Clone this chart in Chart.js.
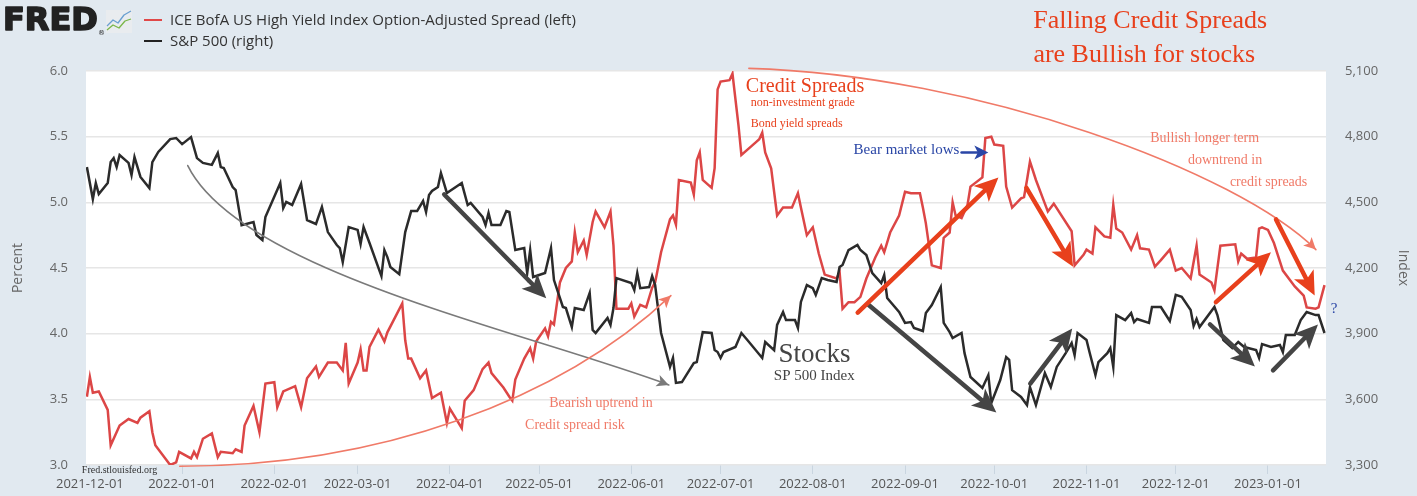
<!DOCTYPE html>
<html>
<head>
<meta charset="utf-8">
<script src="https://cdn.jsdelivr.net/npm/chart.js@4.4.1/dist/chart.umd.min.js"></script>
<style>
  html, body { margin: 0; padding: 0; background: #e1e9f0; }
  #wrap { width: 1417px; height: 496px; position: relative; }
</style>
</head>
<body>
<div id="wrap"><canvas id="fredChart"></canvas></div>
<script>
// x axis months
const monthLabels = ["2021-12-01", "2022-01-01", "2022-02-01", "2022-03-01", "2022-04-01", "2022-05-01",
  "2022-06-01", "2022-07-01", "2022-08-01", "2022-09-01", "2022-10-01", "2022-11-01", "2022-12-01", "2023-01-01"];
const percentTicks = [3.0, 3.5, 4.0, 4.5, 5.0, 5.5, 6.0];
const indexTicks = [3300, 3600, 3900, 4200, 4500, 4800, 5100];

// ICE BofA US High Yield OAS (percent), x = days since 2021-12-01
const spreadDays = [-1, 0, 1, 3, 6, 7, 10, 13, 16, 17,
  20, 21, 22, 27, 29, 30, 34, 35, 36, 38,
  41, 43, 44, 48, 49, 51, 52, 55, 57, 59,
  62, 63, 65, 69, 71, 73, 76, 77, 80, 83,
  85, 86, 87, 90, 91, 92, 93, 94, 97, 99,
  100, 105, 106, 107, 108, 111, 113, 115, 118, 120,
  121, 125, 126, 129, 132, 134, 135, 139, 141, 142,
  143, 146, 148, 149, 150, 153, 154, 155, 156, 158,
  160, 162, 163, 164, 166, 167, 169, 170, 173, 175,
  176, 177, 181, 182, 183, 185, 187, 189, 190, 192,
  195, 196, 197, 198, 202, 203, 204, 205, 206, 209,
  210, 211, 212, 215, 216, 218, 219, 222, 224, 225,
  226, 227, 229, 231, 233, 236, 238, 239, 241, 243,
  245, 247, 251, 252, 253, 255, 257, 259, 261, 264,
  266, 267, 269, 272, 274, 276, 279, 280, 281, 283,
  286, 287, 289, 290, 291, 293, 295, 296, 300, 301,
  303, 304, 307, 308, 310, 313, 314, 315, 316, 318,
  321, 322, 324, 330, 331, 334, 335, 337, 338, 341,
  343, 344, 345, 347, 350, 352, 353, 356, 358, 360,
  363, 365, 367, 370, 372, 373, 377, 378, 380, 385,
  386, 387, 389, 392, 393, 394, 396, 398, 401, 405,
  408, 409, 412, 413, 415];
const spreadPct = [3.52, 3.67, 3.55, 3.56, 3.42, 3.15, 3.30, 3.35, 3.32, 3.36,
  3.41, 3.25, 3.15, 3.00, 3.02, 3.10, 3.05, 3.10, 3.06, 3.20,
  3.24, 3.06, 3.10, 3.09, 3.12, 3.10, 3.30, 3.45, 3.25, 3.62,
  3.63, 3.44, 3.56, 3.60, 3.44, 3.66, 3.75, 3.67, 3.78, 3.78,
  3.72, 3.93, 3.62, 3.78, 3.88, 3.72, 3.72, 3.90, 4.03, 3.94,
  4.01, 4.23, 3.95, 3.81, 3.81, 3.66, 3.72, 3.51, 3.55, 3.32,
  3.43, 3.28, 3.49, 3.57, 3.73, 3.78, 3.70, 3.59, 3.52, 3.49,
  3.65, 3.81, 3.89, 3.81, 3.94, 4.04, 3.98, 4.09, 4.07, 4.39,
  4.50, 4.55, 4.77, 4.62, 4.71, 4.60, 4.85, 4.93, 4.81, 4.93,
  4.67, 4.19, 4.19, 4.23, 4.13, 4.22, 4.20, 4.35, 4.39, 4.62,
  4.87, 4.90, 4.83, 5.17, 5.15, 5.06, 5.32, 5.38, 5.17, 5.11,
  5.26, 5.86, 5.92, 5.93, 5.98, 5.59, 5.36, 5.42, 5.46, 5.48,
  5.53, 5.38, 5.26, 4.90, 4.96, 4.96, 5.07, 4.96, 4.75, 4.81,
  4.61, 4.45, 4.42, 4.47, 4.19, 4.24, 4.24, 4.28, 4.42, 4.58,
  4.67, 4.62, 4.77, 4.90, 5.08, 5.07, 5.07, 4.96, 4.84, 4.52,
  4.50, 4.73, 4.77, 5.00, 4.90, 4.88, 4.98, 5.12, 5.19, 5.49,
  5.50, 5.44, 5.43, 5.12, 4.96, 5.03, 5.04, 5.17, 5.31, 5.17,
  4.99, 4.93, 4.99, 4.78, 4.52, 4.60, 4.64, 4.61, 4.81, 4.74,
  4.73, 4.98, 4.80, 4.77, 4.64, 4.75, 4.65, 4.64, 4.51, 4.56,
  4.64, 4.48, 4.50, 4.42, 4.67, 4.45, 4.39, 4.33, 4.67, 4.68,
  4.55, 4.61, 4.57, 4.58, 4.80, 4.81, 4.79, 4.69, 4.48, 4.36,
  4.29, 4.20, 4.19, 4.20, 4.37];

// S&P 500 index, x = days since 2021-12-01
const spxDays = [-1, 1, 2, 3, 6, 7, 8, 9, 10, 13,
  14, 15, 17, 20, 21, 23, 27, 29, 31, 34,
  36, 38, 41, 43, 44, 45, 48, 49, 51, 55,
  56, 58, 59, 64, 65, 66, 68, 71, 73, 76,
  78, 80, 83, 84, 85, 87, 90, 91, 92, 94,
  98, 99, 100, 101, 104, 106, 108, 110, 112, 113,
  114, 115, 117, 118, 120, 125, 127, 128, 132, 133,
  134, 135, 138, 140, 141, 143, 146, 147, 148, 149,
  153, 155, 156, 159, 160, 162, 163, 166, 168, 169,
  170, 174, 175, 176, 177, 182, 183, 184, 185, 188,
  189, 190, 192, 195, 196, 197, 199, 203, 204, 206,
  209, 210, 211, 212, 213, 217, 219, 221, 226, 227,
  230, 231, 233, 234, 237, 238, 239, 241, 243, 244,
  246, 248, 251, 252, 253, 255, 258, 259, 261, 263,
  266, 267, 268, 272, 274, 276, 277, 280, 281, 283,
  286, 287, 289, 290, 293, 294, 296, 300, 302, 303,
  306, 308, 309, 310, 313, 315, 316, 318, 321, 323,
  325, 328, 330, 331, 332, 335, 336, 338, 339, 342,
  343, 344, 345, 348, 350, 351, 352, 356, 357, 360,
  363, 365, 367, 370, 371, 372, 373, 378, 379, 381,
  384, 386, 388, 392, 393, 394, 397, 400, 401, 402,
  405, 407, 409, 412, 413, 415];
const spxIndex = [4661, 4515, 4588, 4538, 4588, 4684, 4702, 4661, 4716, 4680,
  4625, 4707, 4616, 4565, 4684, 4730, 4789, 4794, 4766, 4798,
  4702, 4680, 4671, 4725, 4661, 4657, 4570, 4556, 4396, 4410,
  4351, 4328, 4433, 4588, 4474, 4502, 4488, 4584, 4419, 4401,
  4479, 4364, 4305, 4291, 4227, 4387, 4374, 4310, 4387, 4314,
  4163, 4282, 4250, 4205, 4172, 4364, 4460, 4460, 4506, 4456,
  4533, 4552, 4570, 4634, 4543, 4588, 4488, 4497, 4433, 4396,
  4451, 4396, 4396, 4460, 4456, 4282, 4291, 4177, 4282, 4159,
  4177, 4291, 4145, 4022, 4017, 3930, 4017, 4008, 4086, 3917,
  3903, 3972, 3940, 4017, 4154, 4131, 4099, 4177, 4108, 4113,
  4163, 4122, 3903, 3748, 3789, 3675, 3679, 3766, 3770, 3907,
  3903, 3825, 3816, 3789, 3816, 3839, 3903, 3871, 3789, 3862,
  3825, 3940, 3999, 3962, 3962, 3926, 4045, 4122, 4108, 4077,
  4154, 4145, 4136, 4205, 4214, 4282, 4305, 4282, 4259, 4177,
  4131, 4168, 4063, 3999, 3949, 3953, 3926, 3912, 3994, 4031,
  4113, 3949, 3907, 3880, 3903, 3811, 3702, 3652, 3711, 3583,
  3688, 3793, 3780, 3642, 3611, 3574, 3656, 3574, 3720, 3656,
  3748, 3811, 3857, 3802, 3903, 3871, 3816, 3711, 3770, 3811,
  3834, 3748, 3985, 3962, 3994, 3953, 3967, 3949, 4022, 4022,
  3958, 4077, 4068, 4008, 3935, 3967, 3930, 4022, 3985, 3871,
  3834, 3862, 3839, 3825, 3789, 3852, 3839, 3848, 3816, 3894,
  3894, 3962, 3999, 3985, 3985, 3903];

// drawn annotations, in (day, percent) units
const RED = "#e8401c";
const SALMON = "#f07a68";
const DARK = "#454545";
const curves = [
  { pts: [[32.9, 5.28], [50.3, 4.48], [144.3, 4.03], [194.6, 3.61]], color: "#7a7a7a", width: 1.6 },
  { pts: [[30.2, 2.99], [97.3, 2.99], [157.7, 3.49], [195.3, 4.29]], color: SALMON, width: 1.6 },
  { pts: [[221.5, 6.02], [298.7, 5.97], [385.9, 5.23], [412.1, 4.64]], color: SALMON, width: 1.6 }
];
const arrows = [
  { from: [119.1, 5.06], to: [153.4, 4.27], color: DARK },
  { from: [261.7, 4.22], to: [304.7, 3.40], color: DARK },
  { from: [316.1, 3.62], to: [330.2, 4.04], color: DARK },
  { from: [376.5, 4.07], to: [391.6, 3.75], color: DARK },
  { from: [397.7, 3.72], to: [412.8, 4.07], color: DARK },
  { from: [258.1, 4.16], to: [305.4, 5.19], color: RED },
  { from: [314.8, 5.11], to: [330.5, 4.51], color: RED },
  { from: [378.5, 4.24], to: [397.0, 4.62], color: RED },
  { from: [398.7, 4.87], to: [411.7, 4.29], color: RED }
];
const notes = [
  { t: "Falling Credit Spreads", at: [356.4, 6.38], size: 26, color: RED, align: "center" },
  { t: "are Bullish for stocks", at: [354.4, 6.12], size: 26, color: RED, align: "center" },
  { t: "Credit Spreads", at: [220.5, 5.88], size: 20, color: RED },
  { t: "non-investment grade", at: [222.1, 5.76], size: 12, color: RED },
  { t: "Bond yield spreads", at: [222.1, 5.60], size: 12, color: RED },
  { t: "Bear market lows", at: [256.7, 5.40], size: 15, color: "#2a46a6" },
  { t: "Stocks", at: [231.5, 3.84], size: 27, color: "#444" },
  { t: "SP 500 Index", at: [229.9, 3.68], size: 15, color: "#444" },
  { t: "Bullish longer term", at: [356.4, 5.49], size: 14, color: SALMON },
  { t: "downtrend in", at: [369.1, 5.32], size: 14, color: SALMON },
  { t: "credit spreads", at: [383.2, 5.15], size: 14, color: SALMON },
  { t: "Bearish uptrend in", at: [154.4, 3.47], size: 14, color: SALMON },
  { t: "Credit spread risk", at: [146.3, 3.30], size: 14, color: SALMON },
  { t: "?", at: [417.1, 4.19], size: 15, color: "#2a46a6" },
  { t: "Fred.stlouisfed.org", at: [-2.7, 2.96], size: 10, color: "#333" }
];

function dayOf(label) {
  const p = label.split("-").map(Number);
  return (Date.UTC(p[0], p[1] - 1, p[2]) - Date.UTC(2021, 11, 1)) / 86400000;
}
const monthDays = monthLabels.map(dayOf);

function arrowHead(ctx, x0, y0, x1, y1, len, half, color) {
  const a = Math.atan2(y1 - y0, x1 - x0);
  ctx.beginPath();
  ctx.moveTo(x1, y1);
  ctx.lineTo(x1 - len * Math.cos(a) + half * Math.sin(a), y1 - len * Math.sin(a) - half * Math.cos(a));
  ctx.lineTo(x1 - len * Math.cos(a) * 0.75, y1 - len * Math.sin(a) * 0.75);
  ctx.lineTo(x1 - len * Math.cos(a) - half * Math.sin(a), y1 - len * Math.sin(a) + half * Math.cos(a));
  ctx.closePath();
  ctx.fillStyle = color;
  ctx.fill();
}

const overlay = {
  id: "overlay",
  beforeDraw(chart) {
    const { ctx, chartArea: a } = chart;
    ctx.save();
    ctx.fillStyle = "#e1e9f0";
    ctx.fillRect(0, 0, chart.width, chart.height);
    ctx.fillStyle = "#ffffff";
    ctx.fillRect(a.left, a.top, a.right - a.left, a.bottom - a.top);
    ctx.restore();
  },
  afterDatasetsDraw(chart) {
    const ctx = chart.ctx;
    const sx = chart.scales.x, sy = chart.scales.y;
    const P = (p) => [sx.getPixelForValue(p[0]), sy.getPixelForValue(p[1])];
    ctx.save();
    ctx.lineCap = "round";

    curves.forEach((c) => {
      const [p0, p1, p2, p3] = c.pts.map(P);
      ctx.beginPath();
      ctx.moveTo(p0[0], p0[1]);
      ctx.bezierCurveTo(p1[0], p1[1], p2[0], p2[1], p3[0], p3[1]);
      ctx.strokeStyle = c.color;
      ctx.lineWidth = c.width;
      ctx.stroke();
      arrowHead(ctx, p2[0], p2[1], p3[0], p3[1], 12, 6, c.color);
    });

    arrows.forEach((ar) => {
      const [x0, y0] = P(ar.from), [x1, y1] = P(ar.to);
      const a = Math.atan2(y1 - y0, x1 - x0);
      ctx.beginPath();
      ctx.moveTo(x0, y0);
      ctx.lineTo(x1 - 14 * Math.cos(a), y1 - 14 * Math.sin(a));
      ctx.strokeStyle = ar.color;
      ctx.lineWidth = 4.5;
      ctx.stroke();
      arrowHead(ctx, x0, y0, x1, y1, 24, 11, ar.color);
    });

    // blue "bear market lows" pointer
    const [bx0, by0] = P([293, 5.38]), [bx1, by1] = P([302, 5.38]);
    ctx.beginPath();
    ctx.moveTo(bx0, by0);
    ctx.lineTo(bx1 - 8, by1);
    ctx.strokeStyle = "#2a46a6";
    ctx.lineWidth = 2.5;
    ctx.stroke();
    arrowHead(ctx, bx0, by0, bx1, by1, 14, 7, "#2a46a6");

    notes.forEach((n) => {
      const [x, y] = P(n.at);
      ctx.font = n.size + "px 'Liberation Serif', serif";
      ctx.fillStyle = n.color;
      ctx.textAlign = n.align || "left";
      ctx.textBaseline = "middle";
      ctx.fillText(n.t, x, y);
    });
    ctx.restore();
  },
  afterDraw(chart) {
    const ctx = chart.ctx;
    ctx.save();
    // FRED logo
    ctx.fillStyle = "#222";
    ctx.strokeStyle = "#222";
    ctx.lineWidth = 1.6;
    ctx.lineJoin = "round";
    ctx.font = "bold 32px 'DejaVu Sans', sans-serif";
    ctx.textBaseline = "middle";
    ctx.textAlign = "left";
    ctx.fillText("FRED", 3, 22);
    ctx.strokeText("FRED", 3, 22);
    ctx.font = "7px 'DejaVu Sans', sans-serif";
    ctx.fillText("\u00ae", 98, 33);
    ctx.fillStyle = "#e9ecef";
    ctx.fillRect(106, 10, 26, 23);
    ctx.lineWidth = 1.3;
    ctx.strokeStyle = "#6a9fd0";
    ctx.beginPath();
    ctx.moveTo(107, 26); ctx.lineTo(113, 20); ctx.lineTo(118, 23); ctx.lineTo(124, 15); ctx.lineTo(131, 11);
    ctx.stroke();
    ctx.strokeStyle = "#7ab648";
    ctx.beginPath();
    ctx.moveTo(107, 30); ctx.lineTo(113, 25); ctx.lineTo(119, 28); ctx.lineTo(125, 21); ctx.lineTo(131, 19);
    ctx.stroke();

    // legend
    ctx.lineWidth = 2;
    ctx.strokeStyle = "#e04848";
    ctx.beginPath(); ctx.moveTo(144, 20); ctx.lineTo(162, 20); ctx.stroke();
    ctx.strokeStyle = "#222";
    ctx.beginPath(); ctx.moveTo(144, 41); ctx.lineTo(162, 41); ctx.stroke();
    ctx.fillStyle = "#333";
    ctx.font = "15px 'Open Sans', sans-serif";
    ctx.fillText("ICE BofA US High Yield Index Option-Adjusted Spread (left)", 170, 21);
    ctx.fillText("S&P 500 (right)", 170, 42);
    ctx.restore();
  }
};

Chart.defaults.font.family = "'Open Sans', 'Noto Sans', sans-serif";

const ctx = document.getElementById("fredChart");
const fredChart = new Chart(ctx, {
  type: "line",
  data: {
    datasets: [
      {
        label: "ICE BofA US High Yield Index Option-Adjusted Spread (left)",
        data: spreadDays.map((d, i) => ({ x: d, y: spreadPct[i] })),
        borderColor: "#dc4646",
        borderWidth: 2.5,
        pointRadius: 0,
        tension: 0,
        yAxisID: "y",
        order: 1,
      },
      {
        label: "S&P 500 (right)",
        data: spxDays.map((d, i) => ({ x: d, y: spxIndex[i] })),
        borderColor: "#2b2b2b",
        borderWidth: 2.5,
        pointRadius: 0,
        tension: 0,
        yAxisID: "y1",
        order: 0,
      },
    ],
  },
  options: {
    responsive: true,
    maintainAspectRatio: false,
    animation: false,
    layout: { padding: { top: 71, left: 0, right: 0, bottom: 0 } },
    plugins: { legend: { display: false }, tooltip: { enabled: false } },
    scales: {
      x: {
        type: "linear",
        min: -1.3,
        max: 415.5,
        afterBuildTicks: (s) => { s.ticks = monthDays.map((v) => ({ value: v })); },
        afterFit: (s) => { s.height = 31; },
        ticks: {
          autoSkip: false,
          maxRotation: 0,
          color: "#555",
          font: { size: 13 },
          padding: 2,
          callback: (v, i) => monthLabels[i],
        },
        grid: { drawOnChartArea: false, tickLength: 9, color: "#c9d5e0", lineWidth: 1 },
        border: { display: false },
      },
      y: {
        position: "left",
        min: 3,
        max: 6,
        afterBuildTicks: (s) => { s.ticks = percentTicks.map((v) => ({ value: v })); },
        afterFit: (s) => { s.width = 86; },
        ticks: { color: "#666", font: { size: 13 }, padding: 18, callback: (v) => v.toFixed(1) },
        grid: { color: "#e6e6e6", lineWidth: 1.5, drawTicks: false },
        border: { display: false },
        title: { display: true, text: "Percent", color: "#666", font: { size: 14 }, padding: { top: 10, bottom: 0 } },
      },
      y1: {
        position: "right",
        min: 3300,
        max: 5100,
        afterBuildTicks: (s) => { s.ticks = indexTicks.map((v) => ({ value: v })); },
        afterFit: (s) => { s.width = 91; },
        ticks: { color: "#666", font: { size: 13 }, padding: 19, callback: (v) => v.toLocaleString("en-US") },
        grid: { drawOnChartArea: false, drawTicks: false },
        border: { display: false },
        title: { display: true, text: "Index", color: "#666", font: { size: 14 }, padding: { top: 6, bottom: 0 } },
      },
    },
  },
  plugins: [overlay],
});
</script>
</body>
</html>
